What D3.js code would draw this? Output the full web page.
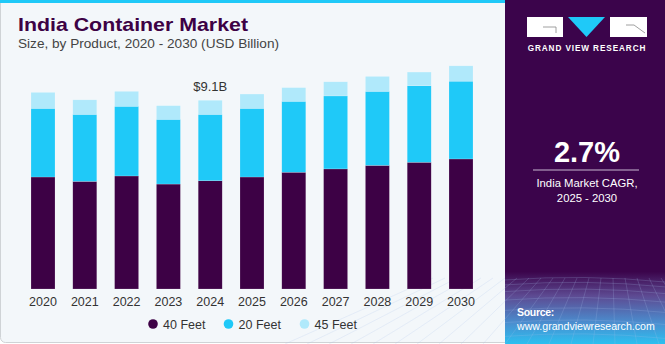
<!DOCTYPE html>
<html><head><meta charset="utf-8">
<script src="https://cdn.jsdelivr.net/npm/d3@7"></script>
<style>
html,body{margin:0;padding:0;background:#fff;}
svg{display:block;font-family:"Liberation Sans",Arial,sans-serif;}
</style></head>
<body>
<svg id="c" width="665" height="344"></svg>
<script>
const years = ["2020","2021","2022","2023","2024","2025","2026","2027","2028","2029","2030"];
const feet40 = [5.40,5.19,5.45,5.06,5.22,5.40,5.63,5.79,5.96,6.11,6.27];
const feet20 = [3.31,3.23,3.36,3.12,3.20,3.31,3.42,3.52,3.57,3.69,3.75];
const feet45 = [0.77,0.70,0.72,0.66,0.68,0.69,0.66,0.68,0.72,0.66,0.74];
const seriesNames = ["40 Feet","20 Feet","45 Feet"];
const colors = ["#3d0145","#1fc9f8","#b0e9fb"];
const annotYear = "2024", annotText = "$9.1B";

const svg = d3.select("#c");
const defs = svg.append("defs");

// left card
svg.append("rect").attr("x",0.5).attr("y",-4).attr("width",520).attr("height",346.5)
  .attr("rx",5).attr("fill","#f3f7fa").attr("stroke","#cfd3d6");
svg.append("rect").attr("x",0).attr("y",0).attr("width",505).attr("height",3).attr("fill","#1fc9f8");

// right panel
const g1 = defs.append("linearGradient").attr("id","rg").attr("x1",0).attr("y1",0).attr("x2",0).attr("y2",1);
g1.append("stop").attr("offset","0").attr("stop-color","#3b044b");
g1.append("stop").attr("offset","0.79").attr("stop-color","#3b044b");
g1.append("stop").attr("offset","0.86").attr("stop-color","#5d4a92");
g1.append("stop").attr("offset","0.94").attr("stop-color","#4a8fd0");
g1.append("stop").attr("offset","1").attr("stop-color","#2bc0f0");
svg.append("rect").attr("x",505).attr("y",0).attr("width",160).attr("height",344).attr("fill","url(#rg)");

// decorative grid
const grid = svg.append("g").attr("stroke","#a9c0ee").attr("stroke-opacity",0.35).attr("stroke-width",0.6).attr("fill","none");
for(let i=0;i<9;i++){
  const yy = 280 + i*i*0.9 + i*4;
  grid.append("path").attr("d",`M505,${yy} Q585,${yy-6} 665,${yy+2}`);
}
for(let i=-6;i<=14;i++){
  const xt = 505 + i*12, xb = 505 + (i-4)*22;
  grid.append("path").attr("d",`M${xt},278 L${xb},344`);
}

// logo
svg.append("rect").attr("x",527).attr("y",17).attr("width",36).attr("height",20).attr("fill","#fff");
svg.append("path").attr("d","M543,27 L556,27 L556,33").attr("stroke","#888").attr("stroke-width",0.8).attr("fill","none");
svg.append("path").attr("d","M568,17 L605,17 L586.5,37 Z").attr("fill","#1fc9f8");
svg.append("rect").attr("x",610).attr("y",17).attr("width",37).attr("height",20).attr("fill","#fff");
svg.append("path").attr("d","M626,25 L634,25 L645,33").attr("stroke","#888").attr("stroke-width",0.8).attr("fill","none");
svg.append("text").attr("x",587).attr("y",51).attr("text-anchor","middle").attr("fill","#fff")
  .attr("font-size",8.2).attr("font-weight","bold").attr("letter-spacing",0.9).text("GRAND VIEW RESEARCH");

svg.append("text").attr("x",587).attr("y",162).attr("text-anchor","middle").attr("fill","#fff")
  .attr("font-size",29).attr("font-weight","bold").text("2.7%");
svg.append("line").attr("x1",533).attr("x2",639).attr("y1",170).attr("y2",170).attr("stroke","#c9b8d2").attr("stroke-width",1);
svg.append("text").attr("x",587).attr("y",187).attr("text-anchor","middle").attr("fill","#fff")
  .attr("font-size",11.3).text("India Market CAGR,");
svg.append("text").attr("x",587).attr("y",202).attr("text-anchor","middle").attr("fill","#fff")
  .attr("font-size",11.3).text("2025 - 2030");
svg.append("text").attr("x",517).attr("y",316).attr("fill","#fff").attr("font-size",10.5).attr("font-weight","bold").attr("letter-spacing",-0.3).text("Source:");
svg.append("text").attr("x",517).attr("y",330).attr("fill","#fff").attr("font-size",10.6).text("www.grandviewresearch.com");

// title
svg.append("text").attr("x",18).attr("y",31).attr("fill","#3d0145").attr("font-size",19).attr("font-weight","bold")
  .attr("textLength",230).attr("lengthAdjust","spacingAndGlyphs").text("India Container Market");
svg.append("text").attr("x",18).attr("y",47.5).attr("fill","#444").attr("font-size",12.3)
  .attr("textLength",261).attr("lengthAdjust","spacingAndGlyphs").text("Size, by Product, 2020 - 2030 (USD Billion)");

// chart
const x = d3.scaleBand().domain(years).range([22.1,481.9]).paddingInner(0.426).paddingOuter(0.213);
const y = d3.scaleLinear().domain([0,10]).range([289,81.6]);
const rows = years.map((yr,i)=>({year:yr,"40 Feet":feet40[i],"20 Feet":feet20[i],"45 Feet":feet45[i]}));
const stacked = d3.stack().keys(seriesNames)(rows);
const color = d3.scaleOrdinal().domain(seriesNames).range(colors);

svg.append("g").selectAll("g").data(stacked).join("g").attr("fill",d=>color(d.key))
  .selectAll("rect").data(d=>d).join("rect")
  .attr("x",d=>x(d.data.year)).attr("width",x.bandwidth())
  .attr("y",d=>y(d[1])).attr("height",d=>y(d[0])-y(d[1]))
  .attr("stroke","#ffffff").attr("stroke-opacity",0.35).attr("stroke-width",0.5);

const xAxis = svg.append("g").attr("transform","translate(0,289)").call(d3.axisBottom(x).tickSize(0).tickPadding(8));
xAxis.select(".domain").remove();
xAxis.selectAll("text").attr("font-size",12.5).attr("fill","#333").attr("font-family","Liberation Sans, Arial, sans-serif");

const ai = years.indexOf(annotYear);
svg.append("text").attr("x",x(annotYear)+x.bandwidth()/2).attr("y",y(feet40[ai]+feet20[ai]+feet45[ai])-9)
  .attr("text-anchor","middle").attr("fill","#333").attr("font-size",13).text(annotText);

// legend
const legX = [153,228.5,304.5];
const leg = svg.append("g");
seriesNames.forEach((s,i)=>{
  leg.append("circle").attr("cx",legX[i]).attr("cy",324).attr("r",4.8).attr("fill",colors[i]);
  leg.append("text").attr("x",legX[i]+10).attr("y",328.5).attr("fill","#333").attr("font-size",12.5).text(s);
});
</script>
</body></html>
